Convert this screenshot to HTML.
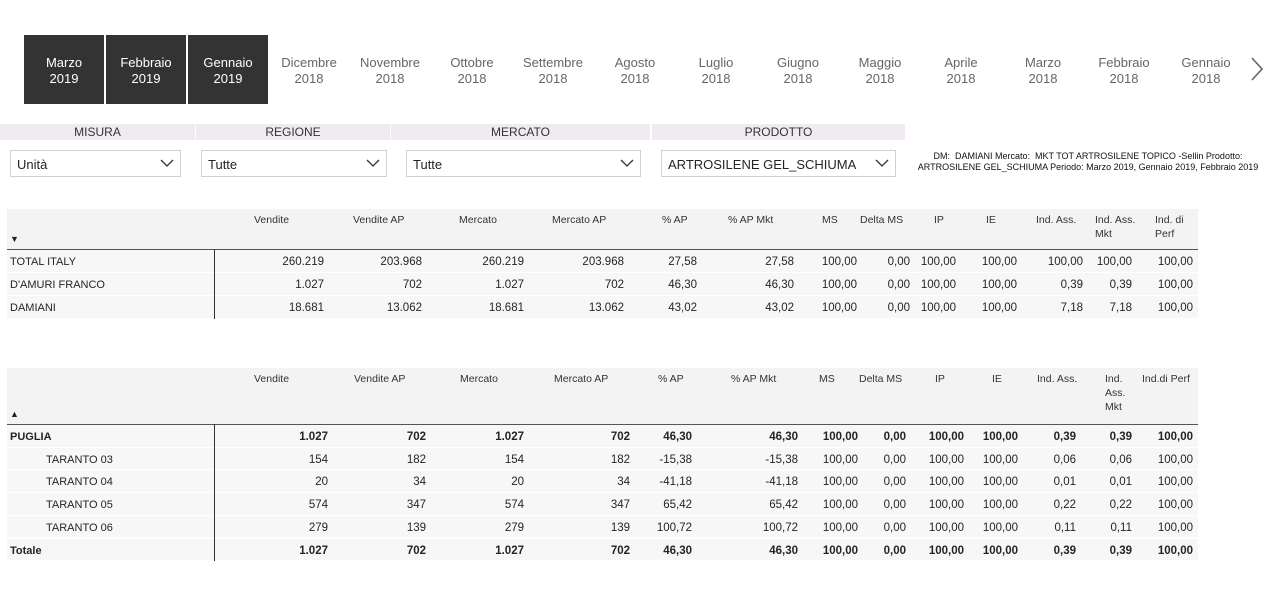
<!DOCTYPE html>
<html><head><meta charset="utf-8">
<style>
body{margin:0;width:1265px;height:610px;background:#fff;font-family:"Liberation Sans",sans-serif;position:relative;overflow:hidden;color:#252423}
.a{position:absolute;white-space:nowrap}
.tile{position:absolute;top:35px;height:69px;width:80px;background:#333;color:#fff;font-size:13px;text-align:center;line-height:16px;box-sizing:border-box;padding-top:20px}
.mon{position:absolute;top:55px;width:80px;margin-left:-40px;text-align:center;font-size:13px;line-height:16px;color:#666}
.sh{position:absolute;top:124px;height:16px;background:#efebf1;font-size:12px;text-align:center;line-height:17px;color:#333}
.dd{position:absolute;top:150px;height:27px;border:1px solid #d0d0d0;box-sizing:border-box;font-size:13px;line-height:28px;padding-left:6px}
.dd svg{position:absolute;right:6px;top:8px}
</style></head><body>
<div class="tile" style="left:24px">Marzo<br>2019</div>
<div class="tile" style="left:106px">Febbraio<br>2019</div>
<div class="tile" style="left:188px">Gennaio<br>2019</div>
<svg class="a" style="left:1250px;top:56px" width="14" height="26"><polyline points="2,2 12,13 2,24" fill="none" stroke="#666" stroke-width="1.6"/></svg>

<div class="sh" style="left:0;width:195px">MISURA</div>
<div class="sh" style="left:196px;width:194px">REGIONE</div>
<div class="sh" style="left:391px;width:259px">MERCATO</div>
<div class="sh" style="left:652px;width:253px">PRODOTTO</div>
<div class="dd" style="left:10px;width:171px">Unità<svg width="14" height="9"><polyline points="1,1 7,7 13,1" fill="none" stroke="#333" stroke-width="1.3"/></svg></div>
<div class="dd" style="left:201px;width:186px">Tutte<svg width="14" height="9"><polyline points="1,1 7,7 13,1" fill="none" stroke="#333" stroke-width="1.3"/></svg></div>
<div class="dd" style="left:406px;width:235px">Tutte<svg width="14" height="9"><polyline points="1,1 7,7 13,1" fill="none" stroke="#333" stroke-width="1.3"/></svg></div>
<div class="dd" style="left:661px;width:235px">ARTROSILENE GEL_SCHIUMA<svg width="14" height="9"><polyline points="1,1 7,7 13,1" fill="none" stroke="#333" stroke-width="1.3"/></svg></div>
<div class="a" style="left:905px;top:151px;width:366px;font-size:9px;line-height:11px;text-align:center;color:#111">DM:&nbsp; DAMIANI Mercato:&nbsp; MKT TOT ARTROSILENE TOPICO -Sellin Prodotto:<br>ARTROSILENE GEL_SCHIUMA Periodo: Marzo 2019, Gennaio 2019, Febbraio 2019</div>

<div id="t1"></div>
<div id="t2"></div>
<script>
const months=["Dicembre 2018","Novembre 2018","Ottobre 2018","Settembre 2018","Agosto 2018","Luglio 2018","Giugno 2018","Maggio 2018","Aprile 2018","Marzo 2018","Febbraio 2018","Gennaio 2018"];
const mc=[309,390,472,553,635,716,798,880,961,1043,1124,1206];
months.forEach((m,i)=>{const d=document.createElement('div');d.className='mon';d.style.left=mc[i]+'px';const p=m.split(' ');d.innerHTML=p[0]+'<br>'+p[1];


document.body.appendChild(d);});

const heads1=["Vendite","Vendite AP","Mercato","Mercato AP","% AP","% AP Mkt","MS","Delta MS","IP","IE","Ind. Ass.","Ind. Ass.<br>Mkt","Ind. di<br>Perf"];
const hx1=[254,353,459,552,662,728,822,860,934,986,1036,1095,1155];
const rx1=[324,422,524,624,697,794,857,910,956,1017,1083,1132,1193];
const rows1=[["TOTAL ITALY","260.219","203.968","260.219","203.968","27,58","27,58","100,00","0,00","100,00","100,00","100,00","100,00","100,00"],
["D'AMURI FRANCO","1.027","702","1.027","702","46,30","46,30","100,00","0,00","100,00","100,00","0,39","0,39","100,00"],
["DAMIANI","18.681","13.062","18.681","13.062","43,02","43,02","100,00","0,00","100,00","100,00","7,18","7,18","100,00"]];
const heads2=["Vendite","Vendite AP","Mercato","Mercato AP","% AP","% AP Mkt","MS","Delta MS","IP","IE","Ind. Ass.","Ind.<br>Ass.<br>Mkt","Ind.di Perf"];
const hx2=[254,354,460,554,658,731,819,859,935,992,1037,1105,1142];
const rx2=[328,426,524,630,692,798,858,906,964,1018,1076,1132,1193];
const rows2=[["PUGLIA","1.027","702","1.027","702","46,30","46,30","100,00","0,00","100,00","100,00","0,39","0,39","100,00"],
["TARANTO 03","154","182","154","182","-15,38","-15,38","100,00","0,00","100,00","100,00","0,06","0,06","100,00"],
["TARANTO 04","20","34","20","34","-41,18","-41,18","100,00","0,00","100,00","100,00","0,01","0,01","100,00"],
["TARANTO 05","574","347","574","347","65,42","65,42","100,00","0,00","100,00","100,00","0,22","0,22","100,00"],
["TARANTO 06","279","139","279","139","100,72","100,72","100,00","0,00","100,00","100,00","0,11","0,11","100,00"],
["Totale","1.027","702","1.027","702","46,30","46,30","100,00","0,00","100,00","100,00","0,39","0,39","100,00"]];
const bold2=[true,false,false,false,false,true];
const indent2=[false,true,true,true,true,false];

function el(parent,css,html,name,inter){const d=document.createElement('div');d.style.cssText='position:absolute;white-space:nowrap;'+css;if(html!=null)d.innerHTML=html;


parent.appendChild(d);return d;}
function table(root,top,hh,heads,hx,rx,rows,rh,arrow,bold,indent){
 el(root,`left:7px;top:${top}px;width:1191px;height:${hh}px;background:#f3f3f3`,null,'table-header-bg','false');
 heads.forEach((h,i)=>{el(root,`left:${hx[i]}px;top:${top+4}px;font-size:10.5px;line-height:14px;color:#333`,h,'column-header','true');});
 el(root,`left:10px;top:${top+hh-15}px;font-size:9px;color:#222`,arrow,'sort-arrow','true');
 el(root,`left:7px;top:${top+hh}px;width:1191px;height:1px;background:#555`,null,'header-rule','false');
 rows.forEach((r,j)=>{const y=top+hh+1+j*rh;
  el(root,`left:7px;top:${y}px;width:1191px;height:${rh-1}px;background:#f7f7f7;border-bottom:1px solid #fff`,null,'row-bg','false');
  const b=bold&&bold[j]?'font-weight:bold;':'';
  el(root,`left:${indent&&indent[j]?46:10}px;top:${y+6}px;font-size:11px;${b}`,r[0],'row-label','false');
  r.slice(1).forEach((v,i)=>{el(root,`left:${rx[i]-90}px;width:90px;text-align:right;top:${y+6}px;font-size:11.5px;${b}`,v,'cell-value','false');});
 });
 el(root,`left:214px;top:${top+hh}px;width:1px;height:${rows.length*rh+1}px;background:#333`,null,'label-divider','false');
}
table(document.getElementById('t1'),209,40,heads1,hx1,rx1,rows1,23,'▼');
table(document.getElementById('t2'),368,56,heads2,hx2,rx2,rows2,22.7,'▲',bold2,indent2);
</script>
</body></html>
